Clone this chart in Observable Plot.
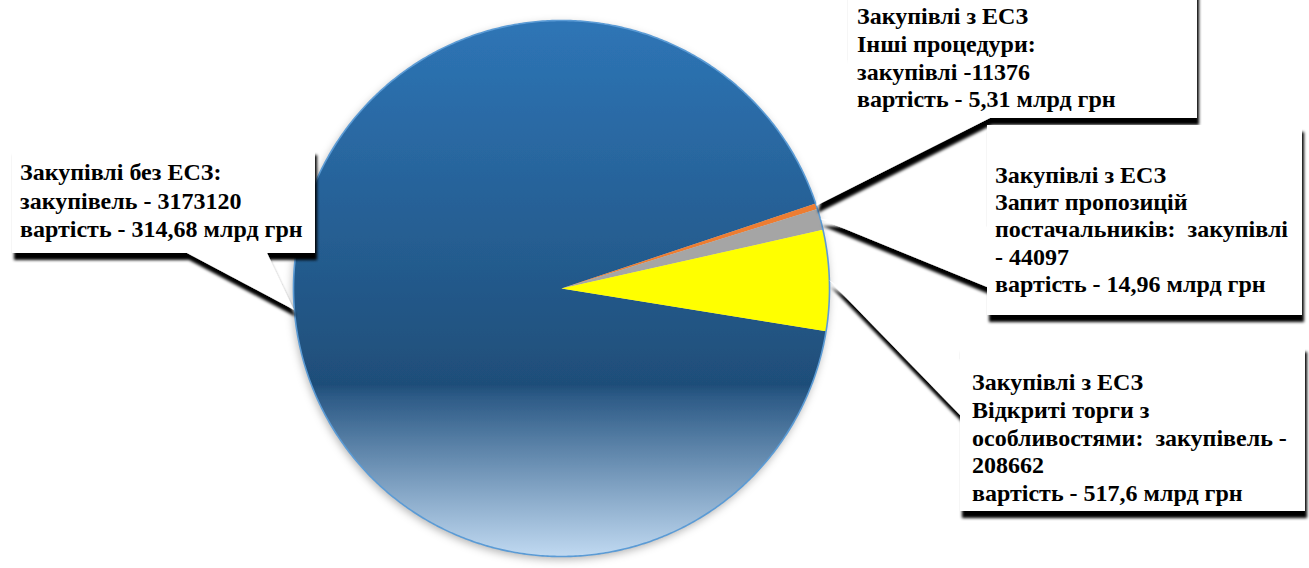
<!DOCTYPE html>
<html><head><meta charset="utf-8">
<script src="https://cdn.jsdelivr.net/npm/d3@7"></script>
<script src="https://cdn.jsdelivr.net/npm/@observablehq/plot@0.6"></script>
<style>
html,body{margin:0;padding:0;background:#fff;}
#chart{position:relative;width:1309px;height:568px;overflow:hidden;}
#chart svg{display:block;}
</style></head><body><div id="chart"></div>
<script>
// ---- data ----
const categories = ["Закупівлі без ЕСЗ", "Інші процедури", "Запит пропозицій постачальників", "Відкриті торги з особливостями"];
const counts = [3173120, 11376, 44097, 208662];
const valuesBn = [314.68, 5.31, 14.96, 517.6]; // млрд грн
const sliceColors = ["url(#blueGrad)", "#ed7d31", "#a5a5a5", "#ffff00"];
const fmtUa = v => String(v).replace(".", ",");
const labelLines = [
  ["Закупівлі без ЕСЗ:", `закупівель - ${counts[0]}`, `вартість - ${fmtUa(valuesBn[0])} млрд грн`],
  ["Закупівлі з ЕСЗ", "Інші процедури:", `закупівлі -${counts[1]}`, `вартість - ${fmtUa(valuesBn[1])} млрд грн`],
  ["Закупівлі з ЕСЗ", "Запит пропозицій", "постачальників:  закупівлі", `- ${counts[2]}`, `вартість - ${fmtUa(valuesBn[2])} млрд грн`],
  ["Закупівлі з ЕСЗ", "Відкриті торги з", "особливостями:  закупівель -", `${counts[3]}`, `вартість - ${fmtUa(valuesBn[3])} млрд грн`]
];

// ---- layout ----
const W = 1309, H = 568, CX = 561, CY = 288, R = 268;
const startDeg = 99.2;
const callouts = [
  {box: [12, 148, 303, 105], base: [[187, 253], [267, 253]], tx: 20, ty: 180, lh: 28.5},
  {box: [848, -20, 349, 138], base: [[848, 60], [990, 118]], tx: 857, ty: 24, lh: 27.8},
  {box: [987, 125, 315, 190], base: [[987, 227], [987, 287]], tx: 995, ty: 183, lh: 27.2},
  {box: [960, 345, 345, 166], base: [[960, 360], [960, 415]], tx: 972, ty: 390, lh: 27.8}
];

const rows = categories.map((c, i) => ({cat: c, count: counts[i]}));
const a0 = startDeg * Math.PI / 180;
const arcs = d3.pie().sort(null).value(d => d.count).startAngle(a0).endAngle(a0 + 2 * Math.PI)(rows);
const pts = [];
arcs.forEach(a => {
  const cat = a.data.cat;
  pts.push({cat, x: 0, y: 0});
  const n = Math.max(2, Math.ceil((a.endAngle - a.startAngle) / 0.004));
  for (let i = 0; i <= n; i++) {
    const t = a.startAngle + (a.endAngle - a.startAngle) * i / n;
    pts.push({cat, x: Math.sin(t), y: Math.cos(t)});
  }
  pts.push({cat, x: 0, y: 0});
});
const ring = d3.range(0, 721).map(i => ({x: Math.sin(i * Math.PI / 360), y: Math.cos(i * Math.PI / 360)}));

const chart = Plot.plot({
  width: W, height: H, margin: 0,
  style: {background: "#fff", overflow: "visible"},
  x: {domain: [-CX / R, (W - CX) / R], axis: null},
  y: {domain: [-(H - CY) / R, CY / R], axis: null},
  color: {domain: categories, range: sliceColors},
  marks: [
    Plot.line(pts, {x: "x", y: "y", z: "cat", fill: "cat", stroke: "none", curve: "linear"}),
    Plot.line(ring, {x: "x", y: "y", stroke: "#5b9bd5", strokeWidth: 1.6})
  ]
});

const svg = d3.select(chart);
const xs = chart.scale("x"), ys = chart.scale("y");
const defs = svg.insert("defs", ":first-child");
const g = defs.append("linearGradient").attr("id", "blueGrad")
  .attr("gradientUnits", "userSpaceOnUse")
  .attr("x1", 0).attr("x2", 0).attr("y1", ys.apply(1)).attr("y2", ys.apply(-1));
[[0, "#2e75b6"], [0.68, "#1f4e79"], [0.70, "#2c5a86"], [1, "#c0d9f1"]]
  .forEach(([o, c]) => g.append("stop").attr("offset", o).attr("stop-color", c));
const pf = defs.append("filter").attr("id", "pieShadow").attr("x", "-10%").attr("y", "-10%").attr("width", "120%").attr("height", "120%");
pf.append("feDropShadow").attr("dx", -1).attr("dy", 3).attr("stdDeviation", 4).attr("flood-color", "#000").attr("flood-opacity", 0.3);
const bf = defs.append("filter").attr("id", "boxShadow").attr("x", "-10%").attr("y", "-10%").attr("width", "120%").attr("height", "130%");
bf.append("feDropShadow").attr("dx", 2).attr("dy", 7).attr("stdDeviation", 1.6).attr("flood-color", "#000").attr("flood-opacity", 1);

svg.selectAll("g[aria-label='line']").filter((d, i) => i === 0).attr("filter", "url(#pieShadow)");

// callouts
const layer = svg.append("g").attr("class", "callouts");
arcs.forEach((a, i) => {
  const c = callouts[i];
  const mid = (a.startAngle + a.endAngle) / 2;
  const tip = [xs.apply(Math.sin(mid)), ys.apply(Math.cos(mid))];
  const grp = layer.append("g");
  const shape = grp.append("g").attr("filter", "url(#boxShadow)");
  shape.append("rect").attr("x", c.box[0]).attr("y", c.box[1]).attr("width", c.box[2]).attr("height", c.box[3]).attr("fill", "#fff");
  shape.append("path").attr("d", `M${c.base[0][0]},${c.base[0][1]}L${tip[0]},${tip[1]}L${c.base[1][0]},${c.base[1][1]}Z`).attr("fill", "#fff");
  grp.append("rect").attr("x", c.box[0]).attr("y", c.box[1]).attr("width", c.box[2]).attr("height", c.box[3]).attr("fill", "#fff");
  const txt = grp.append("text")
    .attr("text-anchor", "start")
    .style("text-anchor", "start")
    .style("font-family", "'Liberation Serif', 'Times New Roman', serif")
    .style("font-weight", "bold").style("font-size", "24px").style("fill", "#000")
    .style("white-space", "pre");
  labelLines[i].forEach((line, j) => {
    txt.append("tspan").attr("x", c.tx).attr("y", c.ty + j * c.lh).text(line);
  });
});

document.getElementById("chart").appendChild(chart);
</script></body></html>
